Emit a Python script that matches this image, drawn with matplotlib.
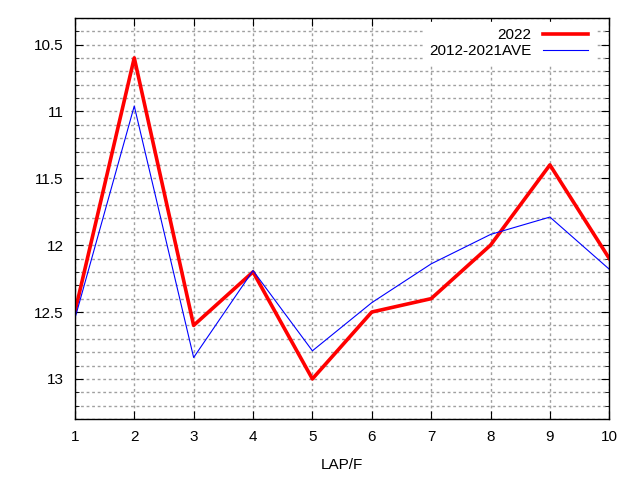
import matplotlib
matplotlib.use("Agg")
import matplotlib.pyplot as plt
from matplotlib.ticker import MultipleLocator

plt.rcParams['font.family'] = ['Liberation Sans', 'DejaVu Sans']

laps = [1, 2, 3, 4, 5, 6, 7, 8, 9, 10]
y2022 = [12.5, 10.6, 12.6, 12.2, 13.0, 12.5, 12.4, 12.0, 11.4, 12.1]
ave = [12.55, 10.96, 12.84, 12.19, 12.79, 12.43, 12.14, 11.92, 11.79, 12.18]

fig = plt.figure(figsize=(6.4, 4.8), dpi=100)
ax = fig.add_axes([0.117, 0.127, 0.835, 0.836])

ax.plot(laps, y2022, color='#ff0000', lw=2.6, label='2022')
ax.plot(laps, ave, color='#0000ff', lw=0.8, label='2012-2021AVE')

ax.set_xlim(1, 10)
ax.set_ylim(13.3, 10.3)
ax.xaxis.set_major_locator(MultipleLocator(1))
ax.yaxis.set_minor_locator(MultipleLocator(0.1))
ax.set_yticks([10.5, 11, 11.5, 12, 12.5, 13])
ax.set_yticklabels(['10.5', '11', '11.5', '12', '12.5', '13'])

ax.grid(which='major', axis='x', color='#a0a0a0', ls=(0, (2, 2)), lw=1)
ax.grid(which='both', axis='y', color='#a0a0a0', ls=(0, (2, 2)), lw=1)
ax.tick_params(which='both', direction='in', top=True, right=True, labelsize=11, pad=8)
ax.tick_params(which='major', length=6)
ax.tick_params(which='minor', length=3)
for s in ax.spines.values():
    s.set_linewidth(1)

ax.set_xlabel('LAP/F', fontsize=11, labelpad=10)

leg = ax.legend(loc='upper right', bbox_to_anchor=(0.981, 1.0), markerfirst=False,
                fontsize=11, frameon=True, fancybox=False, edgecolor='white',
                framealpha=1, handlelength=2.95, borderaxespad=0.3,
                labelspacing=0.1)
for t in leg.get_texts():
    t.set_ha('right')
leg._legend_box.align = 'right'

fig.savefig('out.png', dpi=100)
